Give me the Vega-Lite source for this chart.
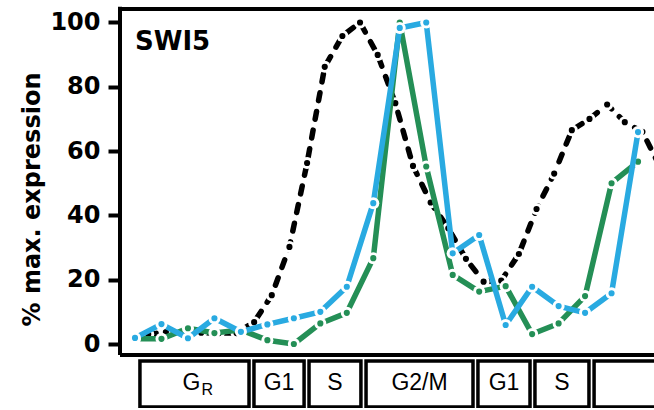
{
  "$schema": "https://vega.github.io/schema/vega-lite/v6.json",
  "width": 534,
  "height": 400,
  "autosize": {"type": "none"},
  "padding": {"left": 120, "top": 8, "right": 0, "bottom": 2},
  "background": "white",
  "config": {"view": {"stroke": null}, "font": "Liberation Sans"},
  "datasets": {
    "series": [
      {"s": "black", "t": 7.5, "v": 3.0}, {"s": "black", "t": 17.5, "v": 3.7}, {"s": "black", "t": 27.5, "v": 3.4},
      {"s": "black", "t": 37.5, "v": 3.5}, {"s": "black", "t": 47.5, "v": 3.4}, {"s": "black", "t": 57.5, "v": 3.4},
      {"s": "black", "t": 67.5, "v": 6.8}, {"s": "black", "t": 77.5, "v": 15.2}, {"s": "black", "t": 87.5, "v": 30.2},
      {"s": "black", "t": 97.5, "v": 56.3}, {"s": "black", "t": 107.5, "v": 86.2}, {"s": "black", "t": 117.5, "v": 95.8},
      {"s": "black", "t": 127.5, "v": 100}, {"s": "black", "t": 137.5, "v": 89.9}, {"s": "black", "t": 147.5, "v": 74.9},
      {"s": "black", "t": 157.5, "v": 55.4}, {"s": "black", "t": 167.5, "v": 44}, {"s": "black", "t": 177.5, "v": 36},
      {"s": "black", "t": 187.5, "v": 26.5}, {"s": "black", "t": 197.5, "v": 19.4}, {"s": "black", "t": 207.5, "v": 19.7},
      {"s": "black", "t": 217.5, "v": 28}, {"s": "black", "t": 227.5, "v": 42}, {"s": "black", "t": 237.5, "v": 53},
      {"s": "black", "t": 247.5, "v": 66.5}, {"s": "black", "t": 257.5, "v": 70}, {"s": "black", "t": 267.5, "v": 74.5},
      {"s": "black", "t": 277.5, "v": 69}, {"s": "black", "t": 287.5, "v": 66}, {"s": "black", "t": 297.5, "v": 55},
      {"s": "green", "t": 0, "v": 1.6}, {"s": "green", "t": 15, "v": 1.6}, {"s": "green", "t": 30, "v": 4.9},
      {"s": "green", "t": 45, "v": 3.4}, {"s": "green", "t": 60, "v": 4.4}, {"s": "green", "t": 75, "v": 1.2},
      {"s": "green", "t": 90, "v": 0}, {"s": "green", "t": 105, "v": 6.4}, {"s": "green", "t": 120, "v": 9.7},
      {"s": "green", "t": 135, "v": 26.7}, {"s": "green", "t": 150, "v": 100}, {"s": "green", "t": 165, "v": 55.2},
      {"s": "green", "t": 180, "v": 21.5}, {"s": "green", "t": 195, "v": 16.3}, {"s": "green", "t": 210, "v": 18},
      {"s": "green", "t": 225, "v": 3.1}, {"s": "green", "t": 240, "v": 6.4}, {"s": "green", "t": 255, "v": 14.9},
      {"s": "green", "t": 270, "v": 50}, {"s": "green", "t": 285, "v": 56.7},
      {"s": "blue", "t": 0, "v": 1.9}, {"s": "blue", "t": 15, "v": 6.2}, {"s": "blue", "t": 30, "v": 1.8},
      {"s": "blue", "t": 45, "v": 8.0}, {"s": "blue", "t": 60, "v": 3.8}, {"s": "blue", "t": 75, "v": 6.1},
      {"s": "blue", "t": 90, "v": 8.0}, {"s": "blue", "t": 105, "v": 10.0}, {"s": "blue", "t": 120, "v": 17.8},
      {"s": "blue", "t": 135, "v": 43.8}, {"s": "blue", "t": 150, "v": 98.3}, {"s": "blue", "t": 165, "v": 100},
      {"s": "blue", "t": 180, "v": 28.2}, {"s": "blue", "t": 195, "v": 33.9}, {"s": "blue", "t": 210, "v": 5.9},
      {"s": "blue", "t": 225, "v": 17.8}, {"s": "blue", "t": 240, "v": 11.8}, {"s": "blue", "t": 255, "v": 9.7},
      {"s": "blue", "t": 270, "v": 15.8}, {"s": "blue", "t": 285, "v": 65.9}
    ],
    "phases": [
      {"phase": "G", "sub": "R", "start": 2.8, "end": 64.6},
      {"phase": "G1", "sub": "", "start": 67.4, "end": 95.8},
      {"phase": "S", "sub": "", "start": 98.6, "end": 128.0},
      {"phase": "G2/M", "sub": "", "start": 130.9, "end": 191.5},
      {"phase": "G1", "sub": "", "start": 194.3, "end": 223.8},
      {"phase": "S", "sub": "", "start": 226.6, "end": 257.2},
      {"phase": "", "sub": "", "start": 260.1, "end": 331}
    ],
    "label": [{"label": "SWI5"}],
    "one": [{"k": 1}]
  },
  "layer": [
    {
      "data": {"name": "series"},
      "transform": [{"filter": "datum.s === 'black'"}],
      "mark": {"type": "line", "color": "#000", "strokeWidth": 5.5, "strokeCap": "round", "strokeJoin": "round", "strokeDash": [8, 11], "clip": true},
      "encoding": {
        "x": {"field": "t", "type": "quantitative", "scale": {"domain": [-8.5, 294.05], "nice": false, "zero": false}, "axis": null},
        "y": {
          "field": "v", "type": "quantitative", "title": "% max. expression",
          "scale": {"domain": [-19.9, 104.5], "nice": false, "zero": false},
          "axis": {
            "values": [0, 20, 40, 60, 80, 100], "domain": false, "grid": false,
            "tickSize": 12, "tickWidth": 4, "tickColor": "#000",
            "labelFont": "DejaVu Sans", "labelFontWeight": "bold", "labelFontSize": 24, "labelColor": "#000",
            "labelPadding": 8, "labelBaseline": "middle", "labelAlign": "right", "labelFlush": false, "labelOverlap": false,
            "title": "% max. expression",
            "titleFont": "DejaVu Sans", "titleFontSize": 24, "titleFontWeight": "bold", "titleColor": "#000",
            "titleAngle": -90, "titleX": -81, "titleY": 191, "titleAlign": "center", "titleBaseline": "alphabetic"
          }
        }
      }
    },
    {
      "data": {"name": "phases"},
      "mark": {"type": "rect", "fill": "white", "stroke": "#000", "strokeWidth": 3.5, "clip": true},
      "encoding": {
        "x": {"field": "start", "type": "quantitative"},
        "x2": {"field": "end"},
        "y": {"datum": -19.6, "type": "quantitative"},
        "y2": {"datum": -5.3}
      }
    },
    {
      "data": {"name": "phases"},
      "transform": [{"filter": "datum.sub === ''"}, {"calculate": "(datum.start + datum.end) / 2", "as": "mid"}],
      "mark": {"type": "text", "align": "center", "baseline": "alphabetic", "font": "Liberation Sans", "fontSize": 23, "color": "#000"},
      "encoding": {
        "x": {"field": "mid", "type": "quantitative"},
        "y": {"datum": -14.3, "type": "quantitative"},
        "text": {"field": "phase"}
      }
    },
    {
      "data": {"name": "phases"},
      "transform": [{"filter": "datum.sub !== ''"}, {"calculate": "(datum.start + datum.end) / 2", "as": "mid"}],
      "mark": {"type": "text", "align": "center", "baseline": "alphabetic", "dx": -3, "font": "Liberation Sans", "fontSize": 23, "color": "#000"},
      "encoding": {
        "x": {"field": "mid", "type": "quantitative"},
        "y": {"datum": -14.3, "type": "quantitative"},
        "text": {"field": "phase"}
      }
    },
    {
      "data": {"name": "phases"},
      "transform": [{"filter": "datum.sub !== ''"}, {"calculate": "(datum.start + datum.end) / 2", "as": "mid"}],
      "mark": {"type": "text", "align": "left", "baseline": "alphabetic", "dx": 7, "dy": 5, "font": "Liberation Sans", "fontSize": 16, "color": "#000"},
      "encoding": {
        "x": {"field": "mid", "type": "quantitative"},
        "y": {"datum": -14.3, "type": "quantitative"},
        "text": {"field": "sub"}
      }
    },
    {
      "data": {"name": "label"},
      "mark": {"type": "text", "align": "left", "baseline": "alphabetic", "font": "DejaVu Sans", "fontWeight": "bold", "fontSize": 26, "color": "#000"},
      "encoding": {
        "x": {"datum": 0, "type": "quantitative"},
        "y": {"datum": 91.4, "type": "quantitative"},
        "text": {"field": "label"}
      }
    },
    {
      "data": {"name": "one"},
      "mark": {"type": "rule", "color": "#000", "strokeWidth": 4},
      "encoding": {
        "x": {"datum": -8.5, "type": "quantitative"},
        "y": {"datum": -3.4, "type": "quantitative"},
        "y2": {"datum": 104.85}
      }
    },
    {
      "data": {"name": "one"},
      "mark": {"type": "rule", "color": "#000", "strokeWidth": 4},
      "encoding": {
        "x": {"datum": -8.5, "type": "quantitative"},
        "x2": {"datum": 294.05},
        "y": {"datum": 104.2, "type": "quantitative"}
      }
    },
    {
      "data": {"name": "one"},
      "mark": {"type": "rule", "color": "#000", "strokeWidth": 4},
      "encoding": {
        "x": {"datum": -8.5, "type": "quantitative"},
        "x2": {"datum": 294.05},
        "y": {"datum": -3.4, "type": "quantitative"}
      }
    },
    {
      "data": {"name": "series"},
      "transform": [{"filter": "datum.s === 'black'"}],
      "mark": {"type": "point", "shape": "circle", "filled": true, "color": "white", "opacity": 1, "size": 145, "clip": true},
      "encoding": {"x": {"field": "t", "type": "quantitative"}, "y": {"field": "v", "type": "quantitative"}}
    },
    {
      "data": {"name": "series"},
      "transform": [{"filter": "datum.s === 'black'"}],
      "mark": {"type": "point", "shape": "circle", "filled": true, "color": "#000", "opacity": 1, "size": 38, "clip": true},
      "encoding": {"x": {"field": "t", "type": "quantitative"}, "y": {"field": "v", "type": "quantitative"}}
    },
    {
      "data": {"name": "series"},
      "transform": [{"filter": "datum.s === 'green'"}],
      "mark": {"type": "line", "color": "#248f56", "strokeWidth": 5.5, "strokeCap": "round", "strokeJoin": "round", "clip": true},
      "encoding": {"x": {"field": "t", "type": "quantitative"}, "y": {"field": "v", "type": "quantitative"}}
    },
    {
      "data": {"name": "series"},
      "transform": [{"filter": "datum.s === 'green'"}],
      "mark": {"type": "point", "shape": "circle", "filled": true, "color": "white", "opacity": 1, "size": 145, "clip": true},
      "encoding": {"x": {"field": "t", "type": "quantitative"}, "y": {"field": "v", "type": "quantitative"}}
    },
    {
      "data": {"name": "series"},
      "transform": [{"filter": "datum.s === 'green'"}],
      "mark": {"type": "point", "shape": "circle", "filled": true, "color": "#248f56", "opacity": 1, "size": 38, "clip": true},
      "encoding": {"x": {"field": "t", "type": "quantitative"}, "y": {"field": "v", "type": "quantitative"}}
    },
    {
      "data": {"name": "series"},
      "transform": [{"filter": "datum.s === 'blue'"}],
      "mark": {"type": "line", "color": "#29aae1", "strokeWidth": 5.5, "strokeCap": "round", "strokeJoin": "round", "clip": true},
      "encoding": {"x": {"field": "t", "type": "quantitative"}, "y": {"field": "v", "type": "quantitative"}}
    },
    {
      "data": {"name": "series"},
      "transform": [{"filter": "datum.s === 'blue'"}],
      "mark": {"type": "point", "shape": "circle", "filled": true, "color": "white", "opacity": 1, "size": 145, "clip": true},
      "encoding": {"x": {"field": "t", "type": "quantitative"}, "y": {"field": "v", "type": "quantitative"}}
    },
    {
      "data": {"name": "series"},
      "transform": [{"filter": "datum.s === 'blue'"}],
      "mark": {"type": "point", "shape": "circle", "filled": true, "color": "#29aae1", "opacity": 1, "size": 38, "clip": true},
      "encoding": {"x": {"field": "t", "type": "quantitative"}, "y": {"field": "v", "type": "quantitative"}}
    }
  ]
}
